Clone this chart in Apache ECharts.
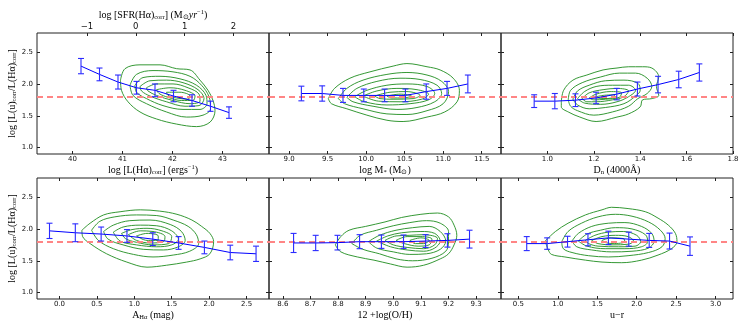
<!DOCTYPE html>
<html>
<head>
<meta charset="utf-8">
<script src="https://cdn.jsdelivr.net/npm/echarts@6/dist/echarts.min.js"></script>
<style>
html, body { margin: 0; padding: 0; background: #fff; }
#chart { width: 747px; height: 332px; }
</style>
</head>
<body>
<div id="chart"></div>
<script>
// reference level and shared y ticks
var refLevel = 1.8;
var yTicks = [1.0, 1.5, 2.0, 2.5];
var sfrTicks = [-1, 0, 1, 2];

// log L(Ha)
var lhaTicks = [40, 41, 42, 43];
var lhaX = [40.17, 40.54, 40.91, 41.28, 41.65, 42.02, 42.39, 42.76, 43.13];
var lhaY = [2.28, 2.15, 2.03, 1.94, 1.90, 1.81, 1.74, 1.65, 1.55];
var lhaErr = [0.12, 0.10, 0.11, 0.10, 0.10, 0.09, 0.09, 0.08, 0.09];
var lhaContours = [
  [[40.96,2.06],[41.05,2.24],[41.35,2.30],[41.75,2.30],[42.08,2.24],[42.35,2.22],[42.55,2.06],[42.71,1.90],[42.81,1.74],[42.85,1.58],[42.75,1.40],[42.48,1.33],[42.08,1.37],[41.68,1.45],[41.35,1.56],[41.11,1.72],[40.98,1.90]],
  [[41.15,1.98],[41.28,2.15],[41.61,2.21],[42.01,2.19],[42.35,2.12],[42.58,1.98],[42.73,1.80],[42.76,1.61],[42.61,1.51],[42.28,1.48],[41.88,1.56],[41.48,1.69],[41.21,1.82]],
  [[41.25,1.98],[41.41,2.10],[41.75,2.12],[42.15,2.08],[42.48,1.98],[42.67,1.82],[42.69,1.69],[42.55,1.60],[42.21,1.60],[41.81,1.66],[41.48,1.77],[41.28,1.87]],
  [[41.35,1.96],[41.55,2.05],[41.88,2.06],[42.21,2.02],[42.51,1.91],[42.63,1.77],[42.53,1.66],[42.25,1.65],[41.88,1.72],[41.55,1.81],[41.38,1.89]],
  [[41.48,1.94],[41.68,2.00],[42.01,2.00],[42.31,1.94],[42.53,1.84],[42.55,1.73],[42.35,1.69],[42.01,1.74],[41.68,1.82],[41.51,1.89]],
  [[41.68,1.91],[41.95,1.94],[42.25,1.90],[42.45,1.81],[42.41,1.74],[42.18,1.74],[41.91,1.79],[41.73,1.85]],
  [[41.88,1.87],[42.15,1.87],[42.35,1.81],[42.31,1.76],[42.08,1.78],[41.91,1.82]]
];

// log M*
var massTicks = [9.0, 9.5, 10.0, 10.5, 11.0, 11.5];
var massX = [9.16, 9.43, 9.70, 9.97, 10.24, 10.51, 10.78, 11.05, 11.32];
var massY = [1.85, 1.85, 1.82, 1.82, 1.82, 1.82, 1.88, 1.93, 2.00];
var massErr = [0.115, 0.12, 0.11, 0.10, 0.10, 0.10, 0.12, 0.11, 0.14];
var massContours = [
  [[9.51,1.77],[9.59,1.93],[9.79,2.09],[10.05,2.19],[10.35,2.28],[10.53,2.32],[10.79,2.27],[10.96,2.22],[11.13,2.09],[11.21,1.90],[11.18,1.72],[11.02,1.56],[10.79,1.48],[10.48,1.41],[10.27,1.43],[10.01,1.51],[9.75,1.61],[9.55,1.69]],
  [[9.64,1.77],[9.75,1.93],[9.96,2.06],[10.27,2.15],[10.53,2.18],[10.79,2.14],[10.98,2.04],[11.07,1.88],[11.00,1.69],[10.79,1.58],[10.53,1.52],[10.27,1.53],[9.96,1.61],[9.72,1.69]],
  [[9.75,1.79],[9.88,1.93],[10.14,2.04],[10.44,2.09],[10.70,2.07],[10.92,1.98],[10.98,1.85],[10.89,1.72],[10.66,1.63],[10.40,1.60],[10.09,1.65],[9.83,1.72]],
  [[9.85,1.80],[10.01,1.90],[10.27,1.98],[10.53,2.00],[10.79,1.96],[10.89,1.85],[10.81,1.75],[10.57,1.69],[10.27,1.67],[9.98,1.72]],
  [[9.96,1.81],[10.14,1.89],[10.40,1.93],[10.66,1.91],[10.81,1.84],[10.72,1.76],[10.44,1.72],[10.16,1.73]],
  [[10.11,1.81],[10.31,1.87],[10.53,1.88],[10.70,1.82],[10.61,1.77],[10.35,1.76],[10.18,1.77]],
  [[10.27,1.81],[10.44,1.84],[10.59,1.81],[10.48,1.78],[10.33,1.78]]
];

// Dn(4000)
var dnTicks = [1.0, 1.2, 1.4, 1.6, 1.8];
var dnX = [0.943, 1.032, 1.121, 1.210, 1.299, 1.388, 1.477, 1.566, 1.655];
var dnY = [1.73, 1.73, 1.745, 1.78, 1.84, 1.92, 1.99, 2.07, 2.18];
var dnErr = [0.10, 0.12, 0.10, 0.09, 0.09, 0.11, 0.13, 0.13, 0.135];
var dnContours = [
  [[1.06,1.72],[1.07,1.90],[1.11,2.06],[1.17,2.14],[1.24,2.22],[1.30,2.25],[1.35,2.27],[1.41,2.27],[1.45,2.25],[1.48,2.11],[1.47,1.96],[1.48,1.82],[1.45,1.77],[1.41,1.75],[1.40,1.64],[1.35,1.53],[1.30,1.48],[1.21,1.41],[1.14,1.48],[1.09,1.56],[1.06,1.64]],
  [[1.09,1.75],[1.10,1.90],[1.15,2.02],[1.23,2.11],[1.31,2.17],[1.38,2.17],[1.43,2.09],[1.45,1.96],[1.43,1.85],[1.39,1.77],[1.35,1.65],[1.28,1.56],[1.20,1.51],[1.13,1.58],[1.10,1.65]],
  [[1.11,1.76],[1.13,1.89],[1.18,1.98],[1.25,2.05],[1.33,2.06],[1.39,2.01],[1.40,1.90],[1.38,1.81],[1.33,1.69],[1.25,1.63],[1.18,1.61],[1.13,1.67]],
  [[1.13,1.77],[1.16,1.88],[1.21,1.96],[1.28,1.98],[1.35,1.98],[1.38,1.90],[1.35,1.80],[1.30,1.72],[1.23,1.68],[1.16,1.70]],
  [[1.15,1.77],[1.18,1.86],[1.24,1.91],[1.30,1.93],[1.35,1.89],[1.33,1.80],[1.28,1.75],[1.21,1.72],[1.17,1.72]],
  [[1.18,1.78],[1.21,1.84],[1.27,1.88],[1.32,1.86],[1.31,1.79],[1.25,1.76],[1.20,1.75]],
  [[1.20,1.79],[1.24,1.82],[1.29,1.83],[1.28,1.78],[1.24,1.77]]
];

// A_Ha
var ahaTicks = [0.0, 0.5, 1.0, 1.5, 2.0, 2.5];
var ahaX = [-0.133, 0.212, 0.557, 0.902, 1.247, 1.592, 1.937, 2.282, 2.627];
var ahaY = [1.97, 1.94, 1.92, 1.89, 1.84, 1.78, 1.71, 1.63, 1.61];
var ahaErr = [0.12, 0.14, 0.11, 0.10, 0.10, 0.10, 0.10, 0.115, 0.12];
var ahaContours = [
  [[0.30,1.98],[0.41,2.09],[0.59,2.22],[0.81,2.27],[1.08,2.30],[1.34,2.28],[1.57,2.23],[1.77,2.14],[1.90,2.04],[2.01,1.93],[2.06,1.80],[2.01,1.61],[1.88,1.53],[1.70,1.48],[1.43,1.43],[1.17,1.40],[0.90,1.48],[0.63,1.61],[0.41,1.77],[0.31,1.88]],
  [[0.43,1.98],[0.54,2.12],[0.74,2.19],[1.03,2.22],[1.30,2.21],[1.52,2.14],[1.72,2.04],[1.83,1.91],[1.86,1.77],[1.74,1.65],[1.52,1.59],[1.25,1.56],[0.99,1.60],[0.72,1.69],[0.52,1.82]],
  [[0.59,1.96],[0.72,2.06],[0.94,2.13],[1.21,2.14],[1.48,2.07],[1.63,1.96],[1.68,1.82],[1.59,1.72],[1.39,1.67],[1.12,1.68],[0.85,1.75],[0.65,1.84]],
  [[0.72,1.95],[0.85,2.03],[1.08,2.06],[1.30,2.05],[1.50,1.97],[1.59,1.84],[1.50,1.75],[1.30,1.72],[1.03,1.75],[0.81,1.81]],
  [[0.83,1.93],[0.97,1.99],[1.17,2.01],[1.37,1.97],[1.50,1.88],[1.46,1.77],[1.25,1.75],[1.03,1.79],[0.88,1.85]],
  [[0.92,1.91],[1.08,1.97],[1.25,1.96],[1.41,1.88],[1.39,1.80],[1.21,1.78],[1.03,1.82]],
  [[1.03,1.89],[1.17,1.93],[1.32,1.89],[1.32,1.82],[1.17,1.82]]
];

// 12+log(O/H)
var ohTicks = [8.6, 8.7, 8.8, 8.9, 9.0, 9.1, 9.2, 9.3];
var ohX = [8.639, 8.719, 8.798, 8.878, 8.957, 9.037, 9.117, 9.196, 9.276];
var ohY = [1.78, 1.78, 1.785, 1.80, 1.80, 1.80, 1.81, 1.82, 1.84];
var ohErr = [0.15, 0.12, 0.115, 0.11, 0.105, 0.105, 0.10, 0.105, 0.14];
var ohContours = [
  [[8.79,1.75],[8.81,1.88],[8.84,1.98],[8.90,2.04],[8.97,2.11],[9.03,2.18],[9.10,2.23],[9.16,2.25],[9.20,2.19],[9.22,2.06],[9.23,1.90],[9.22,1.75],[9.20,1.61],[9.17,1.53],[9.11,1.43],[9.05,1.40],[8.99,1.45],[8.93,1.51],[8.87,1.56],[8.81,1.64]],
  [[8.85,1.77],[8.88,1.90],[8.94,1.98],[9.00,2.05],[9.06,2.10],[9.12,2.13],[9.17,2.09],[9.20,1.96],[9.20,1.80],[9.19,1.65],[9.14,1.54],[9.07,1.50],[9.01,1.53],[8.95,1.61],[8.89,1.68]],
  [[8.91,1.80],[8.95,1.90],[9.01,1.98],[9.07,2.02],[9.13,2.04],[9.17,1.96],[9.19,1.81],[9.17,1.68],[9.12,1.61],[9.06,1.60],[9.00,1.64],[8.94,1.70]],
  [[8.94,1.81],[8.98,1.89],[9.03,1.94],[9.10,1.96],[9.15,1.93],[9.17,1.81],[9.15,1.70],[9.11,1.65],[9.05,1.67],[8.99,1.72]],
  [[8.97,1.82],[9.01,1.89],[9.06,1.90],[9.11,1.91],[9.16,1.85],[9.15,1.75],[9.11,1.69],[9.05,1.71],[9.00,1.75]],
  [[9.01,1.82],[9.05,1.88],[9.10,1.88],[9.14,1.84],[9.13,1.75],[9.09,1.73],[9.04,1.77]],
  [[9.06,1.82],[9.10,1.86],[9.13,1.82],[9.11,1.77],[9.08,1.77]]
];

// u-r
var urTicks = [0.5, 1.0, 1.5, 2.0, 2.5, 3.0];
var urX = [0.606, 0.865, 1.123, 1.382, 1.641, 1.899, 2.158, 2.416, 2.675];
var urY = [1.77, 1.77, 1.80, 1.83, 1.86, 1.84, 1.82, 1.81, 1.73];
var urErr = [0.11, 0.09, 0.085, 0.095, 0.105, 0.11, 0.11, 0.125, 0.145];
var urContours = [
  [[0.84,1.81],[0.97,1.96],[1.13,2.09],[1.35,2.22],[1.56,2.30],[1.68,2.34],[1.89,2.32],[2.11,2.27],[2.27,2.17],[2.40,2.06],[2.49,1.93],[2.51,1.80],[2.44,1.69],[2.27,1.59],[2.06,1.51],[1.81,1.47],[1.56,1.48],[1.35,1.51],[1.09,1.56],[0.92,1.60],[0.88,1.67]],
  [[1.05,1.80],[1.13,1.96],[1.30,2.09],[1.51,2.19],[1.73,2.23],[1.94,2.20],[2.15,2.11],[2.30,1.98],[2.36,1.85],[2.32,1.72],[2.15,1.63],[1.89,1.58],[1.64,1.56],[1.39,1.58],[1.18,1.63],[1.07,1.69]],
  [[1.18,1.81],[1.26,1.93],[1.43,2.04],[1.64,2.09],[1.85,2.10],[2.06,2.04],[2.19,1.93],[2.22,1.81],[2.15,1.70],[1.94,1.65],[1.68,1.64],[1.43,1.67],[1.24,1.72]],
  [[1.26,1.81],[1.37,1.92],[1.54,1.98],[1.73,2.02],[1.94,2.00],[2.11,1.91],[2.14,1.80],[2.06,1.72],[1.85,1.69],[1.60,1.69],[1.37,1.73]],
  [[1.35,1.82],[1.47,1.90],[1.64,1.95],[1.83,1.96],[2.00,1.90],[2.05,1.80],[1.98,1.73],[1.77,1.72],[1.51,1.73],[1.39,1.77]],
  [[1.43,1.82],[1.56,1.88],[1.73,1.90],[1.89,1.88],[1.96,1.81],[1.89,1.76],[1.70,1.75],[1.51,1.77]],
  [[1.56,1.82],[1.68,1.86],[1.83,1.85],[1.85,1.80],[1.70,1.77],[1.59,1.79]]
];

var chart = echarts.init(document.getElementById('chart'), null, { renderer: 'canvas' });

var frameColor = '#222';
var serif = 'Liberation Serif';
var nameStyle = {
  fontFamily: serif, fontSize: 10, color: '#000', lineHeight: 12,
  rich: {
    s: { fontFamily: serif, fontSize: 6.5, lineHeight: 6, verticalAlign: 'bottom', color: '#000' },
    p: { fontFamily: serif, fontSize: 6.5, lineHeight: 6, verticalAlign: 'top', color: '#000' },
    i: { fontFamily: serif, fontSize: 10, fontStyle: 'italic', color: '#000' }
  }
};

var panels = [
  { xs: lhaX, ys: lhaY, err: lhaErr, ticks: lhaTicks, dec: 0, rings: lhaContours, min: 39.29, max: 43.93,
    name: 'log [L(Hα){s|corr}] (ergs{p|−1})', row: 0, col: 0 },
  { xs: massX, ys: massY, err: massErr, ticks: massTicks, dec: 1, rings: massContours, min: 8.74, max: 11.75,
    name: 'log M{s|*} (M{s|⊙})', row: 0, col: 1 },
  { xs: dnX, ys: dnY, err: dnErr, ticks: dnTicks, dec: 1, rings: dnContours, min: 0.8, max: 1.8,
    name: 'D{s|n} (4000Å)', row: 0, col: 2 },
  { xs: ahaX, ys: ahaY, err: ahaErr, ticks: ahaTicks, dec: 1, rings: ahaContours, min: -0.3, max: 2.8,
    name: 'A{s|Hα} (mag)', row: 1, col: 0 },
  { xs: ohX, ys: ohY, err: ohErr, ticks: ohTicks, dec: 1, rings: ohContours, min: 8.55, max: 9.39,
    name: '12 +log(O/H)', row: 1, col: 1 },
  { xs: urX, ys: urY, err: urErr, ticks: urTicks, dec: 1, rings: urContours, min: 0.28, max: 3.22,
    name: 'u−r', row: 1, col: 2 }
];

var colLeft = [37, 269, 501];
var rowTop = [33, 178];

function fmt(dec) {
  return function (v) { return v.toFixed(dec).replace('-', '−'); };
}

function valueAxis(o) {
  return {
    type: 'value', gridIndex: o.grid, position: o.pos, min: o.min, max: o.max,
    axisLine: { show: false, onZero: false },
    splitLine: { show: false },
    axisTick: { show: true, inside: true, length: 3, customValues: o.ticks, lineStyle: { color: frameColor, width: 1 } },
    axisLabel: {
      show: !!o.labels, customValues: o.ticks, margin: o.margin || 2,
      fontSize: o.labelSize || 7, fontFamily: 'DejaVu Sans', color: '#111', formatter: fmt(o.dec || 0)
    },
    name: o.name || '', nameLocation: 'middle', nameGap: o.nameGap || 0, nameRotate: o.rotate || 0,
    nameTextStyle: nameStyle
  };
}

function errorBar(params, api) {
  var x = api.value(0), y = api.value(1), e = api.value(2);
  var hi = api.coord([x, y + e]);
  var lo = api.coord([x, y - e]);
  var cap = 3;
  var st = { stroke: '#2b2bff', lineWidth: 1.1 };
  return {
    type: 'group',
    children: [
      { type: 'line', shape: { x1: hi[0], y1: hi[1], x2: lo[0], y2: lo[1] }, style: st },
      { type: 'line', shape: { x1: hi[0] - cap, y1: hi[1], x2: hi[0] + cap, y2: hi[1] }, style: st },
      { type: 'line', shape: { x1: lo[0] - cap, y1: lo[1], x2: lo[0] + cap, y2: lo[1] }, style: st }
    ]
  };
}

var grids = [], xAxes = [], yAxes = [], series = [];

panels.forEach(function (p, i) {
  grids.push({
    left: colLeft[p.col], top: rowTop[p.row], width: 232, height: 121,
    show: true, borderColor: frameColor, borderWidth: 1, backgroundColor: 'transparent'
  });

  // bottom + top x axes
  xAxes.push(valueAxis({ grid: i, pos: 'bottom', min: p.min, max: p.max, ticks: p.ticks, dec: p.dec,
    labels: true, name: p.name, nameGap: p.row === 0 ? 6 : 9 }));
  if (i === 0) {
    // SFR scale on top of the first panel
    xAxes.push(valueAxis({ grid: i, pos: 'top', min: -2.025, max: 2.73, ticks: sfrTicks, dec: 0,
      labels: true, labelSize: 8.5, name: 'log [SFR(Hα){s|corr}] (M{s|⊙}{i|yr}{p|−1})', nameGap: 12 }));
  } else {
    xAxes.push(valueAxis({ grid: i, pos: 'top', min: p.min, max: p.max, ticks: p.ticks }));
  }

  // left + right y axes
  var first = p.col === 0;
  yAxes.push(valueAxis({ grid: i, pos: 'left', min: 0.9, max: 2.8, ticks: yTicks, dec: 1, labels: first, margin: 4,
    name: first ? 'log [L(u){s|corr}/L(Hα){s|corr}]' : '', nameGap: 9, rotate: 90 }));
  yAxes.push(valueAxis({ grid: i, pos: 'right', min: 0.9, max: 2.8, ticks: yTicks }));

  p.rings.forEach(function (ring) {
    series.push({
      type: 'line', xAxisIndex: 2 * i, yAxisIndex: 2 * i,
      data: ring.concat([ring[0]]), symbol: 'none', smooth: 0.35,
      lineStyle: { color: '#1e8c1e', width: 0.9 }, silent: true, z: 2
    });
  });

  series.push({
    type: 'line', xAxisIndex: 2 * i, yAxisIndex: 2 * i, data: [], symbol: 'none', z: 3,
    markLine: {
      silent: true, symbol: 'none', label: { show: false },
      lineStyle: { color: '#ff8585', type: [6, 4], width: 1.8 },
      data: [{ yAxis: refLevel }]
    }
  });

  series.push({
    type: 'line', xAxisIndex: 2 * i, yAxisIndex: 2 * i,
    data: p.xs.map(function (x, k) { return [x, p.ys[k]]; }),
    symbol: 'none', lineStyle: { color: '#0000ff', width: 1 }, z: 5, silent: true
  });

  series.push({
    type: 'custom', xAxisIndex: 2 * i, yAxisIndex: 2 * i,
    dimensions: ['x', 'y', 'err'], encode: { x: 0, y: 1 },
    data: p.xs.map(function (x, k) { return [x, p.ys[k], p.err[k]]; }),
    renderItem: errorBar, z: 6, silent: true
  });
});

chart.setOption({
  animation: false,
  backgroundColor: '#fff',
  grid: grids,
  xAxis: xAxes,
  yAxis: yAxes,
  series: series
});
</script>
</body>
</html>
